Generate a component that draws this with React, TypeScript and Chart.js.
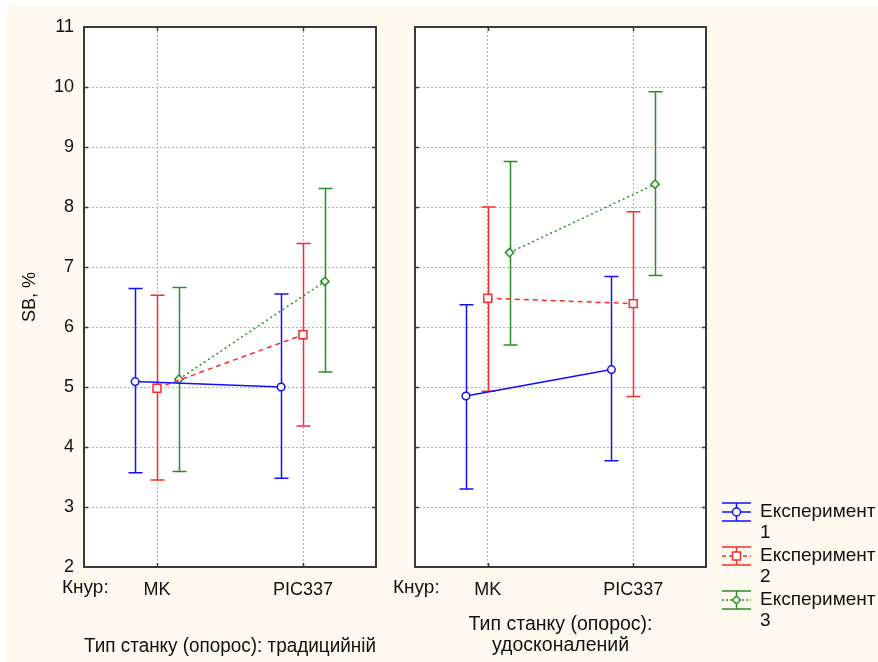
import React, { useEffect, useRef } from 'react';
import { Chart, registerables } from 'chart.js';
Chart.register(...registerables);

// ---------- data ----------
const categories = ['MK', 'PIC337'];
const seriesNames = [['Експеримент', '1'], ['Експеримент', '2'], ['Експеримент', '3']];
const seriesColors = ['#1010ff', '#ff2a2a', '#2a8f2a'];
const seriesDash = [[], [5, 4], [2, 3]];
const seriesPointStyle = ['circle', 'rect', 'rectRot'];
const seriesPointRadius = [3.8, 5.6, 4.2];
const seriesOffsets = [-0.15, 0, 0.15];
const yMin = 2;
const yMax = 11;

// Panel: Тип станку (опорос): традицийній
const leftMean1 = [5.09, 5.0];
const leftLow1 = [3.57, 3.48];
const leftHigh1 = [6.64, 6.55];
const leftMean2 = [4.98, 5.87];
const leftLow2 = [3.45, 4.35];
const leftHigh2 = [6.53, 7.39];
const leftMean3 = [5.13, 6.76];
const leftLow3 = [3.59, 5.25];
const leftHigh3 = [6.66, 8.31];

// Panel: Тип станку (опорос): удосконалений
const rightMean1 = [4.85, 5.29];
const rightLow1 = [3.3, 3.77];
const rightHigh1 = [6.37, 6.84];
const rightMean2 = [6.48, 6.39];
const rightLow2 = [4.93, 4.84];
const rightHigh2 = [8.0, 7.92];
const rightMean3 = [7.24, 8.38];
const rightLow3 = [5.7, 6.86];
const rightHigh3 = [8.76, 9.92];

const xPrefix = 'Кнур:';
const yTitle = 'SB, %';
const leftTitle = 'Тип станку (опорос): традицийній';
const rightTitle = ['Тип станку (опорос):', 'удосконалений'];

const FONT = '"Liberation Sans", Arial, sans-serif';

type PanelCfg = {
  means: number[][];
  lows: number[][];
  highs: number[][];
  showY: boolean;
  yWidth: number;
  padLeft: number;
  padRight: number;
  title: string | string[];
  titlePadBottom: number;
  prefixX: number;
  legend: boolean;
};

function makeChart(canvas: HTMLCanvasElement, cfg: PanelCfg) {
  const datasets = cfg.means.map((m, s) => ({
    label: seriesNames[s].join(' '),
    data: m.map((v, i) => ({ x: i + seriesOffsets[s], y: v })),
    borderColor: seriesColors[s],
    backgroundColor: '#ffffff',
    borderWidth: 1.5,
    borderDash: seriesDash[s],
    pointStyle: seriesPointStyle[s],
    pointRadius: seriesPointRadius[s],
    pointBorderWidth: 1.5,
    pointBorderColor: seriesColors[s],
    pointBackgroundColor: '#ffffff',
    tension: 0,
    fill: false,
  }));

  const panelPlugin = {
    id: 'panel',
    beforeDraw(chart: any) {
      const { ctx, chartArea: a } = chart;
      ctx.save();
      ctx.fillStyle = '#ffffff';
      ctx.fillRect(a.left, a.top, a.right - a.left, a.bottom - a.top);
      ctx.restore();
    },
    beforeDatasetsDraw(chart: any) {
      const { ctx } = chart;
      const x = chart.scales.x;
      const y = chart.scales.y;
      chart.data.datasets.forEach((ds: any, s: number) => {
        ds.data.forEach((p: any, i: number) => {
          const px = Math.round(x.getPixelForValue(p.x)) + 0.5;
          const ph = y.getPixelForValue(cfg.highs[s][i]);
          const pl = y.getPixelForValue(cfg.lows[s][i]);
          ctx.save();
          ctx.strokeStyle = ds.borderColor;
          ctx.lineWidth = 1.5;
          ctx.beginPath();
          ctx.moveTo(px, ph);
          ctx.lineTo(px, pl);
          ctx.moveTo(px - 7, ph);
          ctx.lineTo(px + 7, ph);
          ctx.moveTo(px - 7, pl);
          ctx.lineTo(px + 7, pl);
          ctx.stroke();
          ctx.restore();
        });
      });
    },
    afterDraw(chart: any) {
      const { ctx, chartArea: a } = chart;
      const x = chart.scales.x;
      const y = chart.scales.y;
      ctx.save();
      ctx.strokeStyle = '#3a3a3a';
      ctx.lineWidth = 2;
      ctx.strokeRect(a.left, a.top, a.right - a.left, a.bottom - a.top);
      ctx.lineWidth = 1.5;
      ctx.beginPath();
      for (let v = yMin + 1; v < yMax; v++) {
        const py = Math.round(y.getPixelForValue(v)) + 0.5;
        ctx.moveTo(a.left, py);
        ctx.lineTo(a.left + 4, py);
        ctx.moveTo(a.right, py);
        ctx.lineTo(a.right - 4, py);
      }
      categories.forEach((_, i) => {
        const px = Math.round(x.getPixelForValue(i)) + 0.5;
        ctx.moveTo(px, a.top);
        ctx.lineTo(px, a.top + 4);
        ctx.moveTo(px, a.bottom);
        ctx.lineTo(px, a.bottom - 4);
      });
      ctx.stroke();
      // "Кнур:" prefix
      ctx.fillStyle = '#111111';
      ctx.font = `19px ${FONT}`;
      ctx.textAlign = 'left';
      ctx.textBaseline = 'middle';
      ctx.fillText(xPrefix, cfg.prefixX, a.bottom + 21);
      ctx.restore();

      if (cfg.legend) {
        const ix = a.right + 16;
        const tx = ix + 38;
        const base = a.bottom - 55;
        chart.data.datasets.forEach((ds: any, s: number) => {
          const cy = base + s * 44;
          const cx = ix + 14.5;
          ctx.save();
          ctx.strokeStyle = ds.borderColor;
          ctx.lineWidth = 1.5;
          ctx.beginPath();
          ctx.moveTo(ix, cy - 9);
          ctx.lineTo(ix + 29, cy - 9);
          ctx.moveTo(ix, cy + 9);
          ctx.lineTo(ix + 29, cy + 9);
          ctx.moveTo(cx, cy - 9);
          ctx.lineTo(cx, cy + 9);
          ctx.stroke();
          ctx.setLineDash(s === 1 ? [4, 3] : s === 2 ? [2, 2] : []);
          ctx.beginPath();
          ctx.moveTo(ix, cy);
          ctx.lineTo(ix + 29, cy);
          ctx.stroke();
          ctx.setLineDash([]);
          ctx.fillStyle = '#ffffff';
          ctx.beginPath();
          const r = 4;
          if (s === 0) {
            ctx.arc(cx, cy, r, 0, Math.PI * 2);
          } else if (s === 1) {
            ctx.rect(cx - r, cy - r, 2 * r, 2 * r);
          } else {
            ctx.moveTo(cx - r, cy);
            ctx.lineTo(cx, cy - r);
            ctx.lineTo(cx + r, cy);
            ctx.lineTo(cx, cy + r);
            ctx.closePath();
          }
          ctx.fill();
          ctx.stroke();
          ctx.fillStyle = '#111111';
          ctx.font = `19px ${FONT}`;
          ctx.textAlign = 'left';
          ctx.textBaseline = 'middle';
          seriesNames[s].forEach((line, li) => {
            ctx.fillText(line, tx, cy + li * 21);
          });
          ctx.restore();
        });
      }
    },
  };

  return new Chart(canvas, {
    type: 'line',
    data: { datasets },
    options: {
      responsive: false,
      animation: false,
      devicePixelRatio: 1,
      layout: { padding: { left: cfg.padLeft, right: cfg.padRight, top: 27, bottom: 0 } },
      plugins: { legend: { display: false }, tooltip: { enabled: false } },
      scales: {
        x: {
          type: 'linear',
          min: -0.5,
          max: 1.5,
          afterBuildTicks: (scale: any) => {
            scale.ticks = categories.map((_, i) => ({ value: i }));
          },
          afterFit: (scale: any) => {
            scale.height = 95;
          },
          ticks: {
            callback: (v: any) => categories[v] ?? '',
            font: { family: FONT, size: 18 },
            color: '#111111',
            padding: 12,
            maxRotation: 0,
            autoSkip: false,
          },
          grid: { color: '#b4b4b4', lineWidth: 1, drawTicks: false },
          border: { display: false, dash: [2, 2] },
          title: {
            display: true,
            text: cfg.title,
            font: { family: FONT, size: 19.5, lineHeight: '21px' },
            color: '#111111',
            padding: { top: 0, bottom: cfg.titlePadBottom },
          },
        },
        y: {
          type: 'linear',
          min: yMin,
          max: yMax,
          afterFit: (scale: any) => {
            scale.width = cfg.yWidth;
          },
          ticks: {
            display: cfg.showY,
            stepSize: 1,
            font: { family: FONT, size: 18 },
            color: '#111111',
            padding: 10,
          },
          grid: { color: '#b4b4b4', lineWidth: 1, drawTicks: false },
          border: { display: false, dash: [2, 2] },
          title: {
            display: cfg.showY,
            text: yTitle,
            font: { family: FONT, size: 18, lineHeight: '20px' },
            color: '#111111',
            padding: { top: 20, bottom: 0 },
          },
        },
      },
    },
    plugins: [panelPlugin],
  } as any);
}

export default function App() {
  const leftRef = useRef<HTMLCanvasElement>(null);
  const rightRef = useRef<HTMLCanvasElement>(null);

  useEffect(() => {
    const left = makeChart(leftRef.current!, {
      means: [leftMean1, leftMean2, leftMean3],
      lows: [leftLow1, leftLow2, leftLow3],
      highs: [leftHigh1, leftHigh2, leftHigh3],
      showY: true,
      yWidth: 84,
      padLeft: 0,
      padRight: 24,
      title: leftTitle,
      titlePadBottom: 4.5,
      prefixX: 62,
      legend: false,
    });
    const right = makeChart(rightRef.current!, {
      means: [rightMean1, rightMean2, rightMean3],
      lows: [rightLow1, rightLow2, rightLow3],
      highs: [rightHigh1, rightHigh2, rightHigh3],
      showY: false,
      yWidth: 29,
      padLeft: 0,
      padRight: 172,
      title: rightTitle,
      titlePadBottom: 5.5,
      prefixX: 7,
      legend: true,
    });
    return () => {
      left.destroy();
      right.destroy();
    };
  }, []);

  return (
    <div style={{ position: 'fixed', left: 0, top: 0, width: 878, height: 662, background: '#ffffff', overflow: 'hidden' }}>
      <div style={{ position: 'absolute', left: 6, top: 5, width: 872, height: 657, background: '#fffaef' }} />
      <canvas ref={leftRef} width={400} height={662} style={{ position: 'absolute', left: 0, top: 0, width: 400, height: 662 }} />
      <canvas ref={rightRef} width={492} height={662} style={{ position: 'absolute', left: 386, top: 0, width: 492, height: 662 }} />
    </div>
  );
}
